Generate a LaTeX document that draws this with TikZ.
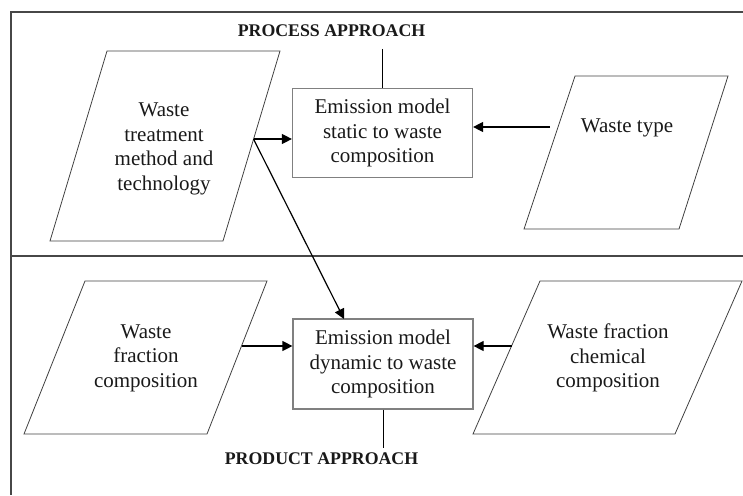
\documentclass[tikz,border=0pt]{standalone}
\usepackage{fontspec}
\setmainfont{Liberation Serif}
\usetikzlibrary{arrows.meta}
\begin{document}
\begin{tikzpicture}[x=1pt,y=-1pt,
  frameline/.style={draw=black!72,line width=1.3pt},
  dataslant/.style={draw=black!75,line width=0.8pt,line join=miter},
  modelbox/.style={draw=black!50,line width=1.2pt,minimum width=180pt,minimum height=89pt,
    inner sep=0pt,align=center,font=\fontsize{21}{24.5}\selectfont,text=black!90},
  inputtext/.style={align=center,font=\fontsize{21}{24.5}\selectfont,text=black!90,inner sep=0pt},
  heading/.style={font=\bfseries\fontsize{17.8}{20}\selectfont,text=black!90,inner sep=0pt,anchor=base},
  flow/.style={draw=black,line width=1.2pt,-{Triangle[length=10pt,width=10pt]}},
  tie/.style={draw=black,line width=1pt}]
\useasboundingbox (0,0) rectangle (743,495);

% outer frame and divider between the two approaches
\draw[frameline] (743,12) -- (11,12) -- (11,495);
\draw[frameline] (11,256) -- (743,256);

% input parallelograms
\draw[dataslant] (50,241) -- (223,241) -- (280,51) -- (107,51) -- cycle;
\draw[dataslant] (524,229) -- (679,229) -- (728,76) -- (575,76) -- cycle;
\draw[dataslant] (24,434) -- (207,434) -- (267,281) -- (85,281) -- cycle;
\draw[dataslant] (473,434) -- (675,434) -- (742,281) -- (540,281) -- cycle;

\node[inputtext] (tech) at (164,149) {Waste\\treatment\\method and\\technology};
\node[inputtext] (wtype) at (627,128) {Waste type};
\node[inputtext] (fraccomp) at (146,358) {Waste\\fraction\\composition};
\node[inputtext] (chemcomp) at (608,358) {Waste fraction\\chemical\\composition};

% emission models
\node[modelbox] (static) at (382.5,133) {Emission model\\static to waste\\composition};
\node[modelbox,minimum height=90pt] (dynamic) at (383,364) {Emission model\\dynamic to waste\\composition};

% approach headings
\node[heading] (process) at (331.5,37) {PROCESS APPROACH};
\node[heading] (product) at (321.5,464) {PRODUCT APPROACH};

\coordinate (procTie) at (382.5,49);
\coordinate (prodTie) at (383,448);
\draw[tie] (procTie) -- (static.north);
\draw[tie] (dynamic.south) -- (prodTie);

% connector end points on the parallelogram edges
\coordinate (techOut) at (253.5,139);
\coordinate (wtypeOut) at (550,127);
\coordinate (fracOut) at (241.5,346);
\coordinate (chemOut) at (511.5,346);

\draw[flow] (techOut) -- (static.west |- techOut);
\draw[flow] (wtypeOut) -- (static.east |- wtypeOut);
\draw[flow] (techOut) -- (344,319);
\draw[flow] (fracOut) -- (dynamic.west |- fracOut);
\draw[flow] (chemOut) -- (dynamic.east |- chemOut);
\end{tikzpicture}
\end{document}
